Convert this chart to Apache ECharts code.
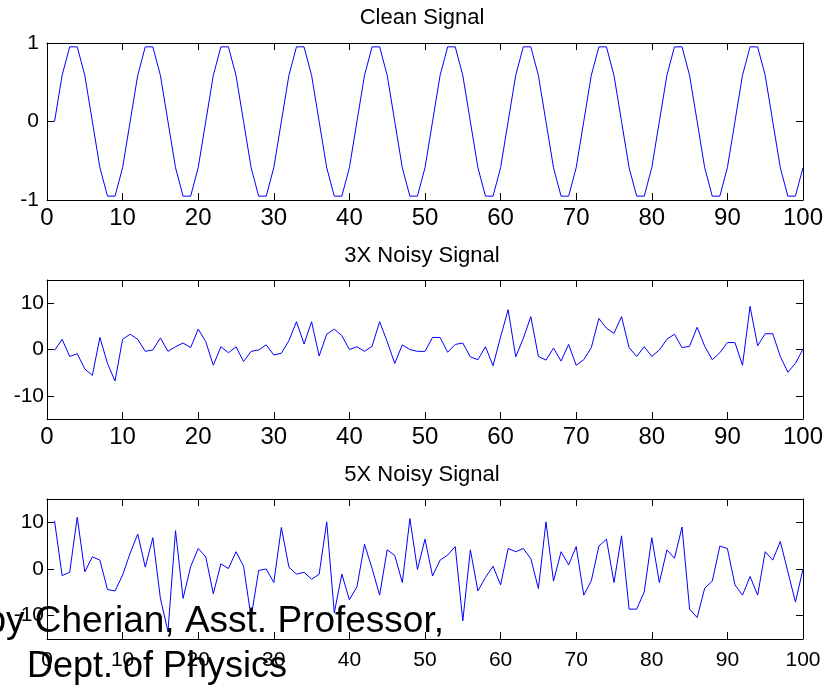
<!DOCTYPE html>
<html>
<head>
<meta charset="utf-8">
<script src="https://cdn.jsdelivr.net/npm/echarts@6/dist/echarts.min.js"></script>
<style>
html,body{margin:0;padding:0;background:#fff;}
#c{width:826px;height:687px;}
</style>
</head>
<body>
<div id="c"></div>
<script>
// ---- data ----
var titles = ["Clean Signal", "3X Noisy Signal", "5X Noisy Signal"];
var xTickLabels = [0, 10, 20, 30, 40, 50, 60, 70, 80, 90, 100];
var yTicksClean = [-1, 0, 1];
var yTicksNoisy = [-10, 0, 10];

var clean = [
  0, 0.588, 0.951, 0.951, 0.588, 0, -0.588, -0.951, -0.951, -0.588,
  0, 0.588, 0.951, 0.951, 0.588, 0, -0.588, -0.951, -0.951, -0.588,
  0, 0.588, 0.951, 0.951, 0.588, 0, -0.588, -0.951, -0.951, -0.588,
  0, 0.588, 0.951, 0.951, 0.588, 0, -0.588, -0.951, -0.951, -0.588,
  0, 0.588, 0.951, 0.951, 0.588, 0, -0.588, -0.951, -0.951, -0.588,
  0, 0.588, 0.951, 0.951, 0.588, 0, -0.588, -0.951, -0.951, -0.588,
  0, 0.588, 0.951, 0.951, 0.588, 0, -0.588, -0.951, -0.951, -0.588,
  0, 0.588, 0.951, 0.951, 0.588, 0, -0.588, -0.951, -0.951, -0.588,
  0, 0.588, 0.951, 0.951, 0.588, 0, -0.588, -0.951, -0.951, -0.588,
  0, 0.588, 0.951, 0.951, 0.588, 0, -0.588, -0.951, -0.951, -0.588
];

var noisy3 = [
  -0.2, 2.2, -1.5, -0.9, -4.2, -5.6, 2.6, -3.0, -6.8, 2.2,
  3.3, 2.2, -0.4, -0.1, 2.5, -0.4, 0.6, 1.4, 0.4, 4.4,
  1.7, -3.4, 0.6, -0.7, 0.6, -2.6, -0.4, -0.1, 1.0, -1.2,
  -0.8, 1.9, 6.0, 1.2, 6.0, -1.4, 3.3, 4.4, 3.0, 0.0,
  0.6, -0.4, 0.7, 6.0, 1.7, -3.0, 1.0, 0.0, -0.4, -0.4,
  2.6, 2.6, -0.6, 1.1, 1.4, -1.6, -2.2, 0.6, -3.5, 2.7,
  8.6, -1.6, 2.4, 7.1, -1.5, -2.3, 0.3, -2.5, 1.1, -3.4,
  -2.2, 0.4, 6.7, 4.6, 3.5, 7.1, 0.4, -1.5, 0.6, -1.5,
  -0.1, 2.2, 3.3, 0.4, 0.7, 4.8, 0.7, -2.2, -0.7, 1.5,
  1.5, -3.4, 9.3, 0.8, 3.4, 3.4, -1.5, -4.9, -3.0, 0.1
];

var noisy5 = [
  10.3, -1.4, -0.7, 11.1, -0.6, 2.6, 1.9, -4.4, -4.7, -1.3,
  3.4, 7.5, 0.4, 6.7, -6.3, -13.4, 8.2, -6.3, 0.5, 4.4,
  2.6, -5.3, 1.1, 0.1, 3.7, 0.6, -10.4, -0.3, 0.0, -2.9,
  8.9, 0.4, -1.1, -0.7, -2.2, -1.1, 10.1, -9.4, -1.1, -6.6,
  -3.8, 5.3, 0.1, -5.6, 4.1, 2.9, -2.9, 10.8, -0.1, 6.4,
  -1.5, 1.9, 3.0, 4.8, -11.1, 4.1, -4.7, -1.8, 0.6, -3.4,
  4.4, 3.7, 4.4, 2.2, -4.2, 10.1, -2.6, 3.7, 0.9, 4.8,
  -5.6, -2.5, 4.9, 6.4, -2.9, 7.1, -8.6, -8.6, -4.9, 6.7,
  -2.9, 4.1, 2.3, 9.0, -8.6, -10.4, -4.1, -2.6, 4.9, 4.4,
  -3.4, -5.6, -1.6, -5.6, 3.7, 1.9, 5.9, -0.6, -7.1, 0.0
];

var creditLine1 = "by Cherian, Asst. Professor,";
var creditLine2 = "Dept. of Physics";

// ---- chart ----
var FONT = "'Liberation Sans', Arial, sans-serif";
var grids = [
  {left: 47, right: 23, top: 43, height: 157},
  {left: 47, right: 23, top: 280, height: 139},
  {left: 47, right: 23, top: 499, height: 140}
];
var yRanges = [[-1, 1], [-15, 15], [-15, 15]];
var yTickSets = [yTicksClean, yTicksNoisy, yTicksNoisy];
var xLabelFont = [24, 24, 21];
var xLabelMargin = [6, 6, 11];
var yLabelMargin = [8, 3, 3];
var seriesData = [clean, noisy3, noisy5];

function tick(vals) {
  var t = {show: true, inside: true, length: 7, lineStyle: {color: '#000', width: 1}};
  if (vals) t.customValues = vals;
  return t;
}
var axisLine = {show: true, onZero: false, lineStyle: {color: '#000', width: 1}};
var xAxes = [], yAxes = [], series = [];
for (var g = 0; g < 3; g++) {
  xAxes.push({
    type: 'value', gridIndex: g, position: 'bottom', min: 0, max: 100, interval: 10,
    axisLine: axisLine, splitLine: {show: false},
    axisTick: tick(xTickLabels),
    axisLabel: {show: true, margin: xLabelMargin[g], color: '#000', fontSize: xLabelFont[g], fontFamily: FONT,
      customValues: xTickLabels}
  });
  xAxes.push({
    type: 'value', gridIndex: g, position: 'top', min: 0, max: 100, interval: 10,
    axisLine: axisLine, splitLine: {show: false},
    axisTick: tick(xTickLabels),
    axisLabel: {show: false, customValues: xTickLabels}
  });
  var yr = yRanges[g];
  yAxes.push({
    type: 'value', gridIndex: g, position: 'left', min: yr[0], max: yr[1],
    interval: g === 0 ? 1 : 5,
    axisLine: axisLine, splitLine: {show: false},
    axisTick: tick(yTickSets[g]),
    axisLabel: {show: true, margin: yLabelMargin[g], color: '#000', fontSize: 21, fontFamily: FONT,
      customValues: yTickSets[g]}
  });
  yAxes.push({
    type: 'value', gridIndex: g, position: 'right', min: yr[0], max: yr[1],
    interval: g === 0 ? 1 : 5,
    axisLine: axisLine, splitLine: {show: false},
    axisTick: tick(yTickSets[g]),
    axisLabel: {show: false, customValues: yTickSets[g]}
  });
  var d = seriesData[g].map(function (v, i) { return [i + 1, v]; });
  series.push({
    type: 'line', xAxisIndex: g * 2, yAxisIndex: g * 2, data: d,
    showSymbol: false, symbol: 'none', animation: false,
    lineStyle: {color: '#0000ff', width: 1}
  });
}

var titleY = [18, 256, 475];
var graphics = titles.map(function (t, i) {
  return {type: 'text', x: 422, y: titleY[i], z: 50,
    style: {text: t, font: '22px ' + FONT, fill: '#000', textAlign: 'center', textVerticalAlign: 'middle'}};
});
graphics.push({type: 'text', x: 444, y: 622, z: 100,
  style: {text: creditLine1, font: '37px ' + FONT, fill: '#000', textAlign: 'right', textVerticalAlign: 'middle'}});
graphics.push({type: 'text', x: 27, y: 667, z: 100,
  style: {text: creditLine2, font: '36px ' + FONT, fill: '#000', textAlign: 'left', textVerticalAlign: 'middle'}});

var chart = echarts.init(document.getElementById('c'), null, {renderer: 'canvas'});
chart.setOption({
  animation: false,
  backgroundColor: '#fff',
  grid: grids,
  xAxis: xAxes,
  yAxis: yAxes,
  series: series,
  graphic: graphics
});
</script>
</body>
</html>
